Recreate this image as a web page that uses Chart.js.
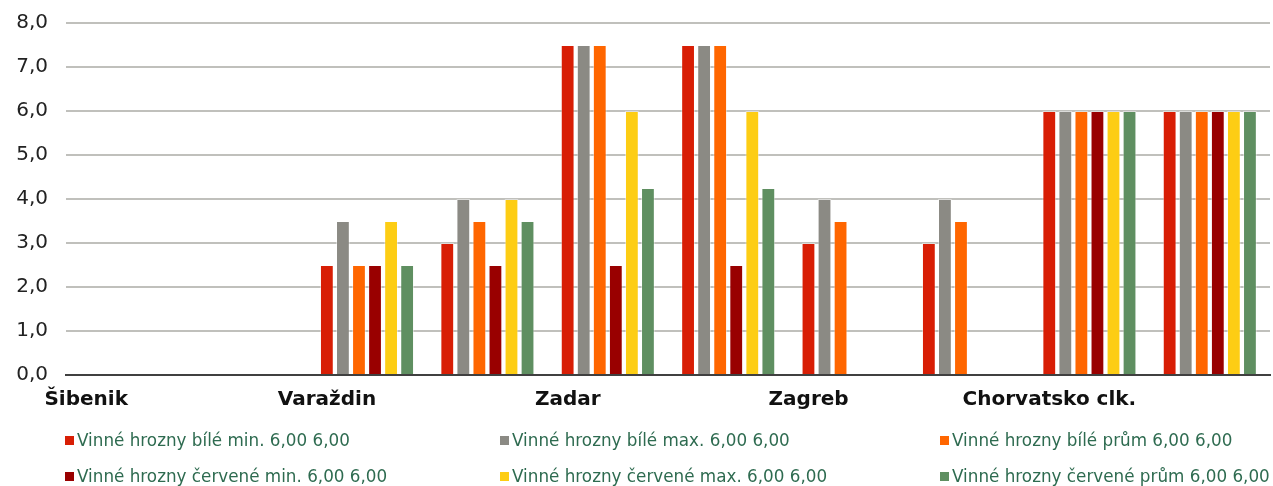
<!DOCTYPE html>
<html>
<head>
<meta charset="utf-8">
<script src="https://cdn.jsdelivr.net/npm/chart.js@4"></script>
<style>
  body { margin: 0; background: #fff; overflow: hidden; }
  #wrap { position: relative; width: 1273px; height: 486px; overflow: hidden; }
  #chartBox { position: absolute; left: 0; top: -7px; width: 1273px; height: 424px; }
  #legend { position: absolute; left: 0; top: 0; width: 1273px; height: 486px; pointer-events: none; }
  .item { position: absolute; font: 16.8px "DejaVu Sans", Verdana, sans-serif; color: #2e6b50; white-space: nowrap; line-height: 20px; }
  .item span.box { display: inline-block; width: 9px; height: 9px; margin-right: 3px; vertical-align: 1px; }
</style>
</head>
<body>
<div id="wrap">
  <div id="chartBox"><canvas id="myChart"></canvas></div>
  <div id="legend"></div>
</div>
<script>
// categories (only every other one carries a label)
const categories = ['Šibenik', '', 'Varaždin', '', 'Zadar', '', 'Zagreb', '', 'Chorvatsko clk.', ''];

// series values
const bileMin     = [null, null, 2.5, 3.0, 7.5, 7.5, 3.0, 3.0, 6.0, 6.0];
const bileMax     = [null, null, 3.5, 4.0, 7.5, 7.5, 4.0, 4.0, 6.0, 6.0];
const bilePrum    = [null, null, 2.5, 3.5, 7.5, 7.5, 3.5, 3.5, 6.0, 6.0];
const cerveneMin  = [null, null, 2.5, 2.5, 2.5, 2.5, null, null, 6.0, 6.0];
const cerveneMax  = [null, null, 3.5, 4.0, 6.0, 6.0, null, null, 6.0, 6.0];
const cervenePrum = [null, null, 2.5, 3.5, 4.25, 4.25, null, null, 6.0, 6.0];

const seriesNames = [
    'Vinné hrozny bílé min. 6,00 6,00',
    'Vinné hrozny bílé max. 6,00 6,00',
    'Vinné hrozny bílé prům 6,00 6,00',
    'Vinné hrozny červené min. 6,00 6,00',
    'Vinné hrozny červené max. 6,00 6,00',
    'Vinné hrozny červené prům 6,00 6,00'
];
const seriesColors = ['#d81e05', '#8b8a84', '#ff6600', '#990000', '#fdcd14', '#5f8f61'];
const seriesData = [bileMin, bileMax, bilePrum, cerveneMin, cerveneMax, cervenePrum];

const datasets = seriesData.map((d, i) => ({
    label: seriesNames[i],
    data: d,
    backgroundColor: seriesColors[i],
    borderColor: 'rgba(255,255,255,0.45)',
    borderWidth: 1,
    categoryPercentage: 0.8,
    barPercentage: 0.86
}));

const ctx = document.getElementById('myChart').getContext('2d');
const chart = new Chart(ctx, {
    type: 'bar',
    data: { labels: categories, datasets: datasets },
    options: {
        responsive: true,
        maintainAspectRatio: false,
        animation: false,
        layout: { padding: { top: 8, left: 12, right: 3, bottom: 0 } },
        plugins: {
            legend: { display: false },
            tooltip: { enabled: false }
        },
        scales: {
            x: {
                grid: { display: false },
                border: { display: true, color: '#404040', width: 2 },
                ticks: {
                    autoSkip: false,
                    maxRotation: 0,
                    padding: 5,
                    labelOffset: -40,
                    color: '#111',
                    font: { family: '"DejaVu Sans", Verdana, sans-serif', size: 20, weight: 'bold' }
                }
            },
            y: {
                min: 0,
                max: 8,
                afterFit: (scale) => { scale.width = 54; },
                border: { display: false },
                grid: {
                    drawTicks: false,
                    lineWidth: 2,
                    color: (c) => c.tick && c.tick.value === 0 ? '#404040' : '#c0c0bc'
                },
                ticks: {
                    stepSize: 1,
                    padding: 18,
                    color: '#222',
                    font: { family: '"DejaVu Sans", Verdana, sans-serif', size: 20 },
                    callback: (v) => v.toFixed(1).replace('.', ',')
                }
            }
        }
    }
});

// legend in three columns, two rows
const legend = document.getElementById('legend');
const colX = [65, 500, 940];
const rowY = [430, 466];
seriesNames.forEach((name, i) => {
    const el = document.createElement('div');
    el.className = 'item';
    el.style.left = colX[i % 3] + 'px';
    el.style.top = rowY[Math.floor(i / 3)] + 'px';
    el.innerHTML = `<span class="box" style="background:${seriesColors[i]}"></span>${name}`;
    legend.appendChild(el);
});
</script>
</body>
</html>
